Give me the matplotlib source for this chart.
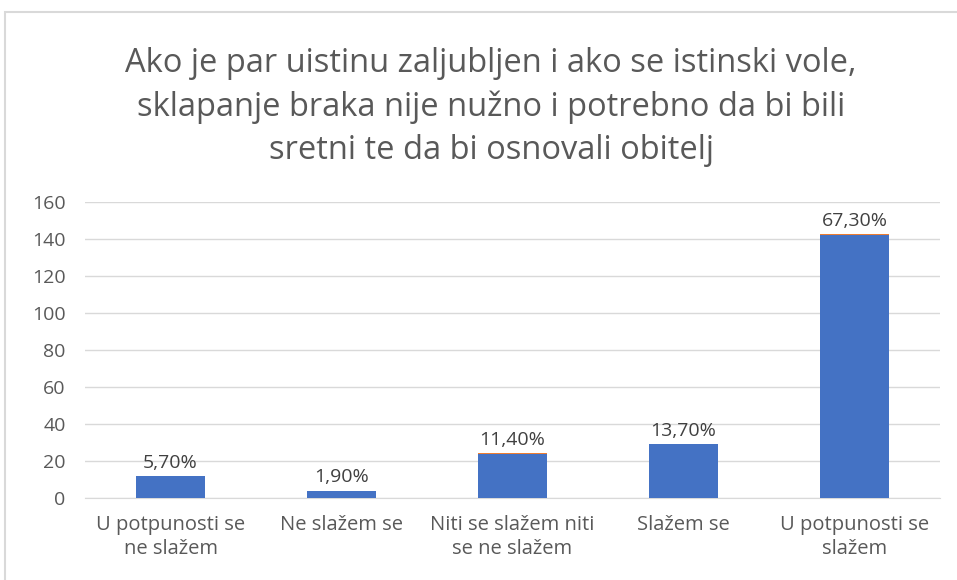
import matplotlib.pyplot as plt
from matplotlib.patches import Rectangle

categories = ["U potpunosti se\nne slažem", "Ne slažem se", "Niti se slažem niti\nse ne slažem", "Slažem se", "U potpunosti se\nslažem"]
counts = [12, 4, 24, 29, 142]
shares = [0.057, 0.019, 0.114, 0.137, 0.673]
labels = ["5,70%", "1,90%", "11,40%", "13,70%", "67,30%"]
yticks = [0, 20, 40, 60, 80, 100, 120, 140, 160]
title = "Ako je par uistinu zaljubljen i ako se istinski vole,\nsklapanje braka nije nužno i potrebno da bi bili\nsretni te da bi osnovali obitelj"

plt.rcParams['font.family'] = ['Open Sans', 'DejaVu Sans']
grey = '#595959'

fig = plt.figure(figsize=(9.57, 5.8), dpi=100)
W, H = 957, 580
fig.patches.append(Rectangle((5 / W, -0.2), 1.0, 1.2 - 12 / H, transform=fig.transFigure,
                             fill=False, edgecolor='#d9d9d9', linewidth=1.5))
ax = fig.add_axes([85 / W, 1 - 498 / H, 855 / W, 296 / H])
x = range(len(categories))
ax.bar(x, counts, width=0.4, color='#4472c4', zorder=3)
ax.bar(x, shares, bottom=counts, width=0.4, color='#ed7d31', zorder=3)
for i, (c, s, l) in enumerate(zip(counts, shares, labels)):
    ax.annotate(l, (i, c + s), xytext=(0, 3), textcoords='offset points', ha='center', va='bottom',
                fontsize=14, color='#404040')
ax.set_xlim(-0.5, len(categories) - 0.5)
ax.set_ylim(0, 160)
ax.set_yticks(yticks)
ax.yaxis.grid(True, color='#d9d9d9', linewidth=1, zorder=0)
ax.set_xticks(list(x))
ax.set_xticklabels(categories, fontsize=14.5, color=grey, linespacing=1.3)
ax.tick_params(axis='y', labelsize=14, labelcolor=grey, length=0, pad=14)
ax.tick_params(axis='x', length=0, pad=12)
for s in ['top', 'right', 'left']:
    ax.spines[s].set_visible(False)
ax.spines['bottom'].set_color('#d9d9d9')
fig.text(491 / W, 1 - 107 / H, title, ha='center', va='center', fontsize=23.5, color=grey, linespacing=1.4)
fig.savefig('out.png', dpi=100)
